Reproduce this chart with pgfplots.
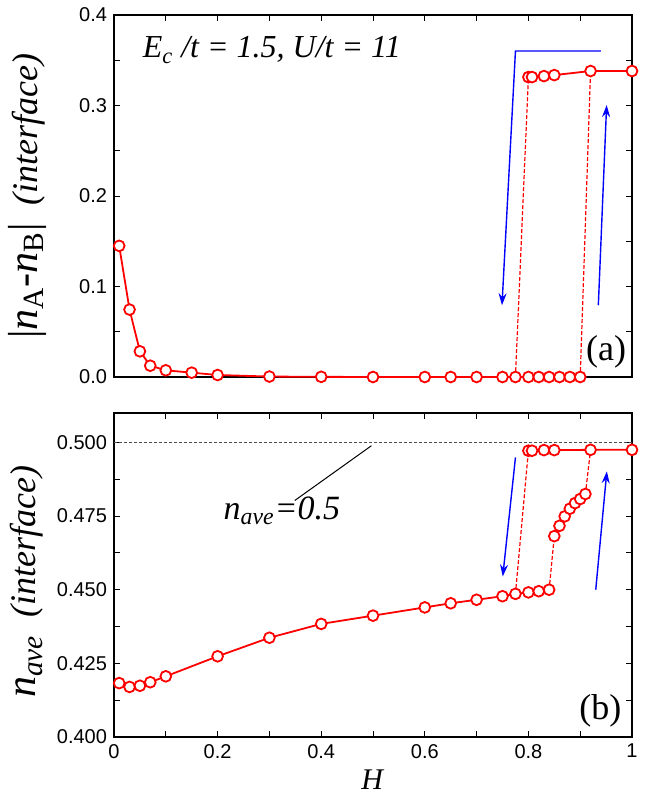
\documentclass[border=0pt]{standalone}
\usepackage{fontspec}
\setmainfont{Liberation Serif}
\newfontfamily\tickfont{Liberation Sans}
\usepackage{pgfplots}
\pgfplotsset{compat=1.18}
\usetikzlibrary{arrows.meta}

\pgfplotsset{
  panel/.style={
    scale only axis, width=259pt, xmin=0, xmax=1,
    xtick={0,0.2,0.4,0.6,0.8,1}, minor xtick={0.1,0.3,0.5,0.7,0.9},
    tick align=inside, major tick length=3pt, minor tick length=3pt,
    every tick/.style={black, line width=0.5pt},
    axis line style={line width=0.6pt},
    tick label style={font=\tickfont\fontsize{10}{12}\selectfont},
    /pgf/number format/assume math mode=true,
    clip=false,
  },
  ser/.style={red, line width=0.9pt, mark=*, mark size=2.7pt,
    mark options={solid, fill=white, draw=red, line width=0.9pt}},
  jump/.style={red, line width=0.6pt, dash pattern=on 2pt off 1pt},
  harrow/.style={blue, line width=0.7pt, -{Stealth[length=6pt,width=4pt]}},
}

\begin{document}
\begin{tikzpicture}
\useasboundingbox (-57pt,7.5pt) rectangle (275pt,-391pt);

% (a)
\begin{axis}[panel, at={(0,0)}, anchor=north west, height=181pt,
  ymin=0, ymax=0.4,
  ytick={0,0.1,0.2,0.3,0.4}, minor ytick={0.05,0.15,0.25,0.35},
  yticklabel style={/pgf/number format/.cd, fixed, fixed zerofill, precision=1},
  xticklabels={},
  ylabel={{\fontsize{21}{24}\selectfont |\textit{n}\textsubscript{A}-\textit{n}\textsubscript{B}|}\hspace{9pt}{\fontsize{18}{20}\selectfont\textit{(interface)}}},
  ylabel style={at={(axis description cs:-0.168,0.5)}, anchor=center},
]
\addplot[jump] coordinates {(0.775,0) (0.80,0.3314)};
\addplot[jump] coordinates {(0.90,0) (0.92,0.3381)};
\addplot[ser] coordinates {
  (0.01,0.1449) (0.03,0.0745) (0.05,0.0284) (0.07,0.0125) (0.10,0.0074)
  (0.15,0.0048) (0.20,0.0022) (0.30,0.0005) (0.40,0.0002) (0.50,0)
  (0.60,0) (0.65,0) (0.70,0) (0.75,0) (0.775,0) (0.80,0) (0.82,0)
  (0.84,0) (0.86,0) (0.88,0) (0.90,0)
};
\addplot[ser] coordinates {
  (0.80,0.3314) (0.807,0.3314) (0.83,0.3325) (0.85,0.3336) (0.92,0.3381) (1.0,0.3381)
};
\addplot[harrow] coordinates {(0.940,0.3602) (0.775,0.3602) (0.749,0.0793)};
\addplot[harrow] coordinates {(0.935,0.0793) (0.951,0.3005)};
\node[anchor=base west, font=\fontsize{16}{18}\selectfont\itshape]
  at (axis cs:0.042,0.3525) {E\textsubscript{c} /t = 1.5, U/t = 11};
\node[font=\fontsize{18}{20}\selectfont] at (axis cs:0.950,0.0276) {(a)};
\end{axis}

% (b)
\begin{axis}[panel, at={(0,-199pt)}, anchor=north west, height=162pt,
  ymin=0.4, ymax=0.51,
  ytick={0.4,0.425,0.45,0.475,0.5}, minor ytick={0.4125,0.4375,0.4625,0.4875},
  yticklabel style={/pgf/number format/.cd, fixed, fixed zerofill, precision=3},
  xticklabels={0,0.2,0.4,0.6,0.8,1},
  xlabel={\fontsize{15}{16}\selectfont\textit{H}},
  xlabel style={at={(axis description cs:0.5,-0.133)}, anchor=center},
  ylabel={{\fontsize{21}{24}\selectfont\textit{n}\textsubscript{\textit{ave}}}\hspace{9pt}{\fontsize{18}{20}\selectfont\textit{(interface)}}},
  ylabel style={at={(axis description cs:-0.168,0.48)}, anchor=center},
]
\addplot[black!70, line width=0.5pt, dash pattern=on 1.5pt off 1pt] coordinates {(0,0.5) (1,0.5)};
\addplot[black, line width=0.5pt] coordinates {(0.497,0.4989) (0.349,0.4803)};
\addplot[jump] coordinates {(0.775,0.4486) (0.80,0.4972)};
\addplot[jump] coordinates {(0.84,0.4500) (0.85,0.4682)};
\addplot[jump] coordinates {(0.91,0.4825) (0.92,0.4975)};
\addplot[ser] coordinates {
  (0.01,0.4183) (0.03,0.4170) (0.05,0.4174) (0.07,0.4186) (0.10,0.4206)
  (0.20,0.4274) (0.30,0.4337) (0.40,0.4384) (0.50,0.4412) (0.60,0.4440)
  (0.65,0.4454) (0.70,0.4466) (0.75,0.4478) (0.775,0.4486) (0.80,0.4491)
  (0.82,0.4495) (0.84,0.4500)
};
\addplot[ser] coordinates {
  (0.85,0.4682) (0.86,0.4717) (0.87,0.4749) (0.88,0.4775) (0.89,0.4794)
  (0.90,0.4808) (0.91,0.4825)
};
\addplot[ser] coordinates {
  (0.80,0.4972) (0.807,0.4972) (0.83,0.4974) (0.85,0.4974) (0.92,0.4975) (1.0,0.4975)
};
\addplot[harrow] coordinates {(0.775,0.4949) (0.7505,0.4545)};
\addplot[harrow] coordinates {(0.930,0.4500) (0.9514,0.4902)};
\node[anchor=base west, font=\fontsize{17}{19}\selectfont\itshape]
  at (axis cs:0.198,0.4738) {n\textsubscript{ave}=0.5};
\node[font=\fontsize{18}{20}\selectfont] at (axis cs:0.939,0.4089) {(b)};
\end{axis}
\end{tikzpicture}
\end{document}
